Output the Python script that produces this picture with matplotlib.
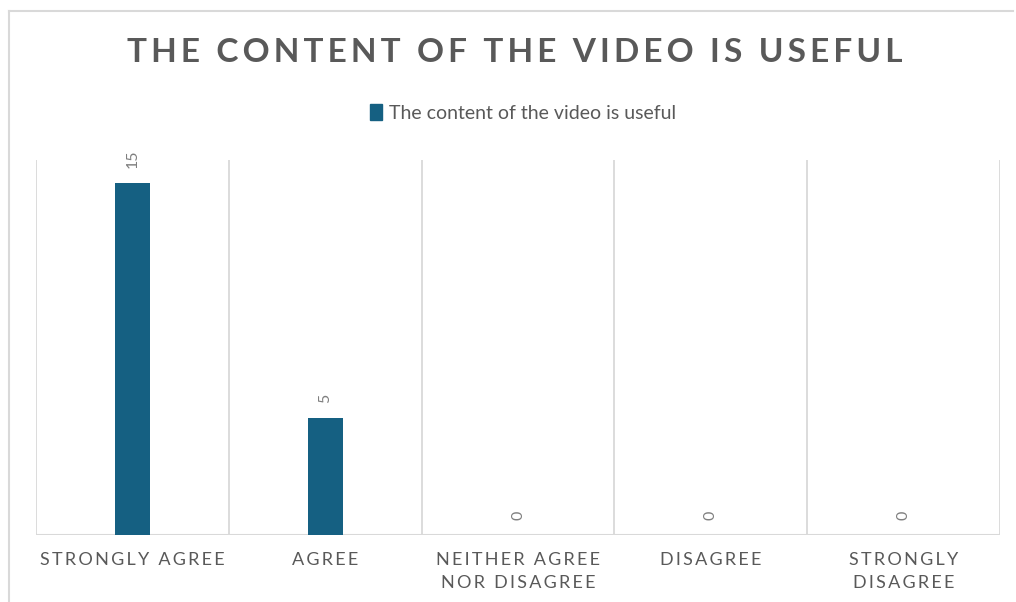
import matplotlib.pyplot as plt
from matplotlib.lines import Line2D
from matplotlib.patches import Patch

categorias = ["STRONGLY AGREE", "AGREE", "NEITHER AGREE\nNOR DISAGREE", "DISAGREE", "STRONGLY\nDISAGREE"]
respuestas = [15, 5, 0, 0, 0]
serie = "The content of the video is useful"
titulo = "THE CONTENT OF THE VIDEO IS USEFUL"

azul = "#156082"
gris = "#595959"
rejilla = "#d9d9d9"
fuente = ["Lato", "DejaVu Sans"]


def espaciar(texto, sep="\u2009"):
    # letras separadas por espacio fino, una linea a la vez
    return "\n".join(sep.join(linea) for linea in texto.split("\n"))


fig = plt.figure(figsize=(10.16, 6.02), dpi=100)
ax = fig.add_axes([0.0354, 0.1113, 0.9489, 0.6229])

x = list(range(len(categorias)))
ax.bar(x, respuestas, width=0.18, color=azul, zorder=3)

ax.set_xlim(-0.5, len(categorias) - 0.5)
ax.set_ylim(0, 16)

# lineas verticales entre categorias
for b in range(len(categorias) + 1):
    ax.axvline(b - 0.5, color=rejilla, lw=1.3, zorder=1)
ax.axhline(0, color=rejilla, lw=1.5, zorder=2)

for s in ax.spines.values():
    s.set_visible(False)
ax.set_yticks([])
ax.set_xticks(x)
ax.set_xticklabels([espaciar(c) for c in categorias], family=fuente, fontsize=13,
                   color=gris, linespacing=1.55, va="top")
ax.tick_params(axis="x", length=0, pad=12)

for xi, v in zip(x, respuestas):
    ax.annotate(str(v), (xi, v), xytext=(0, 11), textcoords="offset points",
                rotation=90, ha="center", va="bottom", fontsize=11.5,
                color="#7f7f7f", family=fuente)

fig.text(0.507, 0.912, espaciar(titulo, "\u2009"), ha="center", va="center",
         fontsize=24, fontweight="bold", color=gris, family=fuente)

fig.legend(handles=[Patch(color=azul, label=serie)], loc="center",
           bbox_to_anchor=(0.515, 0.812), frameon=False, handlelength=0.6,
           handleheight=0.9, handletextpad=0.4,
           prop={"family": fuente, "size": 14}, labelcolor=gris)

# marco del grafico
fig.add_artist(Line2D([0.009, 0.997], [0.982, 0.982], color=rejilla, lw=1.5))
fig.add_artist(Line2D([0.009, 0.009], [0.0, 0.982], color=rejilla, lw=1.5))

fig.savefig("out.png", dpi=100, facecolor="white")
